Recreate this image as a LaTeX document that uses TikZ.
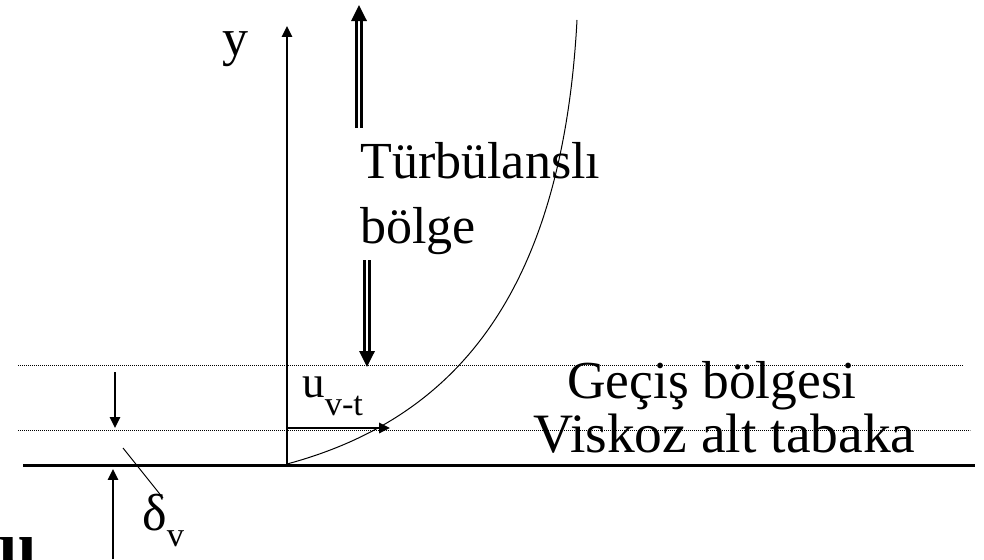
\documentclass[tikz,border=0pt]{standalone}
\usepackage{fontspec}
\setmainfont{Liberation Serif}
\usetikzlibrary{arrows.meta,positioning}

\begin{document}
\begin{tikzpicture}[
  x=0.025cm, y=-0.025cm,
  lbl/.style={inner sep=0pt, anchor=base west, font=\fontsize{37}{44}\selectfont},
  axis/.style={line width=0.055cm, -{Triangle[length=0.27cm, width=0.25cm]}},
  dbl/.style={double, line width=0.07cm, double distance=0.05cm, -{Triangle[length=0.4cm, width=0.38cm]}},
  level/.style={line width=0.025cm, dash pattern=on 0.025cm off 0.025cm},
  wall/.style={line width=0.075cm}
]
\clip (0,0) rectangle (984,559);

% axis and profile
\coordinate (O) at (287,464);
\coordinate (ytop) at (287,26);
\coordinate (vt) at (390,428);
\draw[axis] (O) -- (ytop);
\node[lbl] (ylab) at (222,55) {y};
\draw[line width=0.025cm] (O) .. controls (450,420) and (562,300) .. (577,20);
\draw[axis, line width=0.065cm] (O |- vt) -- (vt);

% turbulent zone arrows
\coordinate (up1) at (359,128);
\coordinate (up2) at (359,5);
\coordinate (dn1) at (367,260);
\coordinate (dn2) at (367,367);
\draw[dbl] (up1) -- (up2);
\draw[dbl] (dn1) -- (dn2);
\node[lbl] (turb) at (360,178) {Türbülanslı};
\node[lbl] (bolge) at (360,243) {bölge};

% layers
\coordinate (g1) at (18,365);
\coordinate (g2) at (963,365);
\coordinate (v1) at (18,430);
\coordinate (v2) at (970,430);
\coordinate (w1) at (23,465);
\coordinate (w2) at (975,465);
\draw[level] (g1) -- (g2);
\draw[level] (v1) -- (v2);
\draw[wall] (w1) -- (w2);
\node[lbl, font=\fontsize{38}{45}\selectfont] (gecis) at (567,398) {Geçiş bölgesi};
\node[lbl, font=\fontsize{39.5}{47}\selectfont] (visk) at (533,452) {Viskoz alt tabaka};
\node[lbl, font=\fontsize{32}{38}\selectfont] (uvt) at (302,397)
  {u\raisebox{-0.45cm}{\fontsize{24.5}{29}\selectfont v-t}};

% sublayer thickness
\coordinate (a1) at (115,372);
\coordinate (a2) at (115,428);
\coordinate (b1) at (113,559);
\coordinate (b2) at (113,469);
\coordinate (l1) at (123,448);
\coordinate (l2) at (163,498);
\draw[axis] (a1) -- (a2);
\draw[axis] (b1) -- (b2);
\draw[line width=0.025cm] (l1) -- (l2);
\node[lbl] (delta) at (142,530)
  {δ\raisebox{-0.42cm}{\fontsize{24.5}{29}\selectfont v}};
\node[lbl, font=\fontsize{48}{56}\selectfont\bfseries] (ulab) at (-1,568) {u};
\end{tikzpicture}
\end{document}
